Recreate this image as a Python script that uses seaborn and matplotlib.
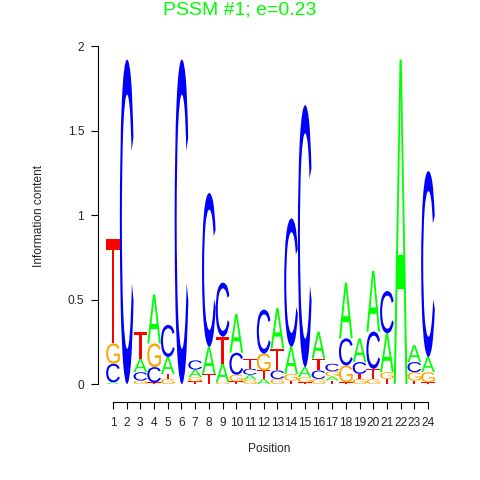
"""Sequence logo for PSSM #1."""

import matplotlib.pyplot as plt
import seaborn as sns
from matplotlib.font_manager import FontProperties
from matplotlib.patches import PathPatch
from matplotlib.textpath import TextPath
from matplotlib.transforms import Affine2D

sns.set_theme(style="ticks")
plt.rcParams["font.family"] = ["Liberation Sans", "DejaVu Sans"]

positions = list(range(1, 25))
bases = ["A", "C", "G", "T"]

# information content per base and position (bits)
a_bits = [0.01, 0.0, 0.08, 0.29, 0.10, 0.0, 0.045, 0.16, 0.11, 0.23, 0.03, 0.03,
          0.24, 0.16, 0.06, 0.16, 0.025, 0.33, 0.14, 0.36, 0.23, 1.92, 0.10, 0.09]
c_bits = [0.11, 1.92, 0.05, 0.09, 0.19, 1.92, 0.055, 0.91, 0.32, 0.13, 0.035, 0.26,
          0.05, 0.76, 1.55, 0.05, 0.045, 0.16, 0.07, 0.22, 0.25, 0.0, 0.06, 1.10]
g_bits = [0.12, 0.0, 0.02, 0.14, 0.03, 0.0, 0.025, 0.0, 0.01, 0.04, 0.025, 0.10,
          0.03, 0.04, 0.03, 0.03, 0.03, 0.10, 0.03, 0.03, 0.04, 0.0, 0.05, 0.06]
t_bits = [0.62, 0.0, 0.16, 0.01, 0.03, 0.0, 0.015, 0.06, 0.16, 0.015, 0.06, 0.05,
          0.13, 0.02, 0.01, 0.07, 0.02, 0.01, 0.03, 0.06, 0.03, 0.0, 0.02, 0.01]

colors = {"A": "#00FF00", "C": "#0000FF", "G": "#FFA500", "T": "#FF0000"}
letter_font = FontProperties(family="Liberation Sans")


def draw_letter(ax, letter, x, y0, height, width=1.0):
    path = TextPath((0, 0), letter, size=1, prop=letter_font)
    ext = path.get_extents()
    trans = (
        Affine2D()
        .translate(-ext.x0, -ext.y0)
        .scale(width / ext.width, height / ext.height)
        .translate(x - width / 2, y0)
    )
    ax.add_patch(PathPatch(trans.transform_path(path), color=colors[letter], lw=0))


fig = plt.figure(figsize=(4.8, 4.8), dpi=100)
ax = fig.add_axes([98 / 480, 78 / 480, 342 / 480, 372 / 480])

bits = dict(zip(bases, [a_bits, c_bits, g_bits, t_bits]))
for i, pos in enumerate(positions):
    column = sorted(((bits[b][i], b) for b in bases), key=lambda item: item[0])
    base = 0.0
    for value, letter in column:
        if value > 0:
            draw_letter(ax, letter, pos, base, value)
        base += value

ax.set_xlim(-0.095, 24.876)
ax.set_ylim(-0.1065, 2.095)
ax.set_xticks(positions)
ax.set_xticklabels([str(p) for p in positions])
ax.set_yticks([0, 0.5, 1, 1.5, 2])
ax.set_yticklabels(["0", "0.5", "1", "1.5", "2"])
ax.tick_params(axis="both", direction="out", length=5, width=0.8, color="black",
               labelsize=8.6, pad=6)
ax.tick_params(axis="y", pad=5)
sns.despine(ax=ax)
ax.spines["left"].set_bounds(0, 2)
ax.spines["bottom"].set_bounds(1, 24)
for side in ["left", "bottom"]:
    ax.spines[side].set_color("black")
    ax.spines[side].set_linewidth(0.8)
ax.set_xlabel("Position", fontsize=8.6, labelpad=10)
ax.set_ylabel("Information content", fontsize=8.6, labelpad=16)
ax.grid(False)

fig.text(0.5, 1 - 10 / 480, "PSSM #1; e=0.23", color="#00FF00", fontsize=14,
         ha="center", va="center")

fig.savefig("out.png", dpi=100)
plt.close(fig)
